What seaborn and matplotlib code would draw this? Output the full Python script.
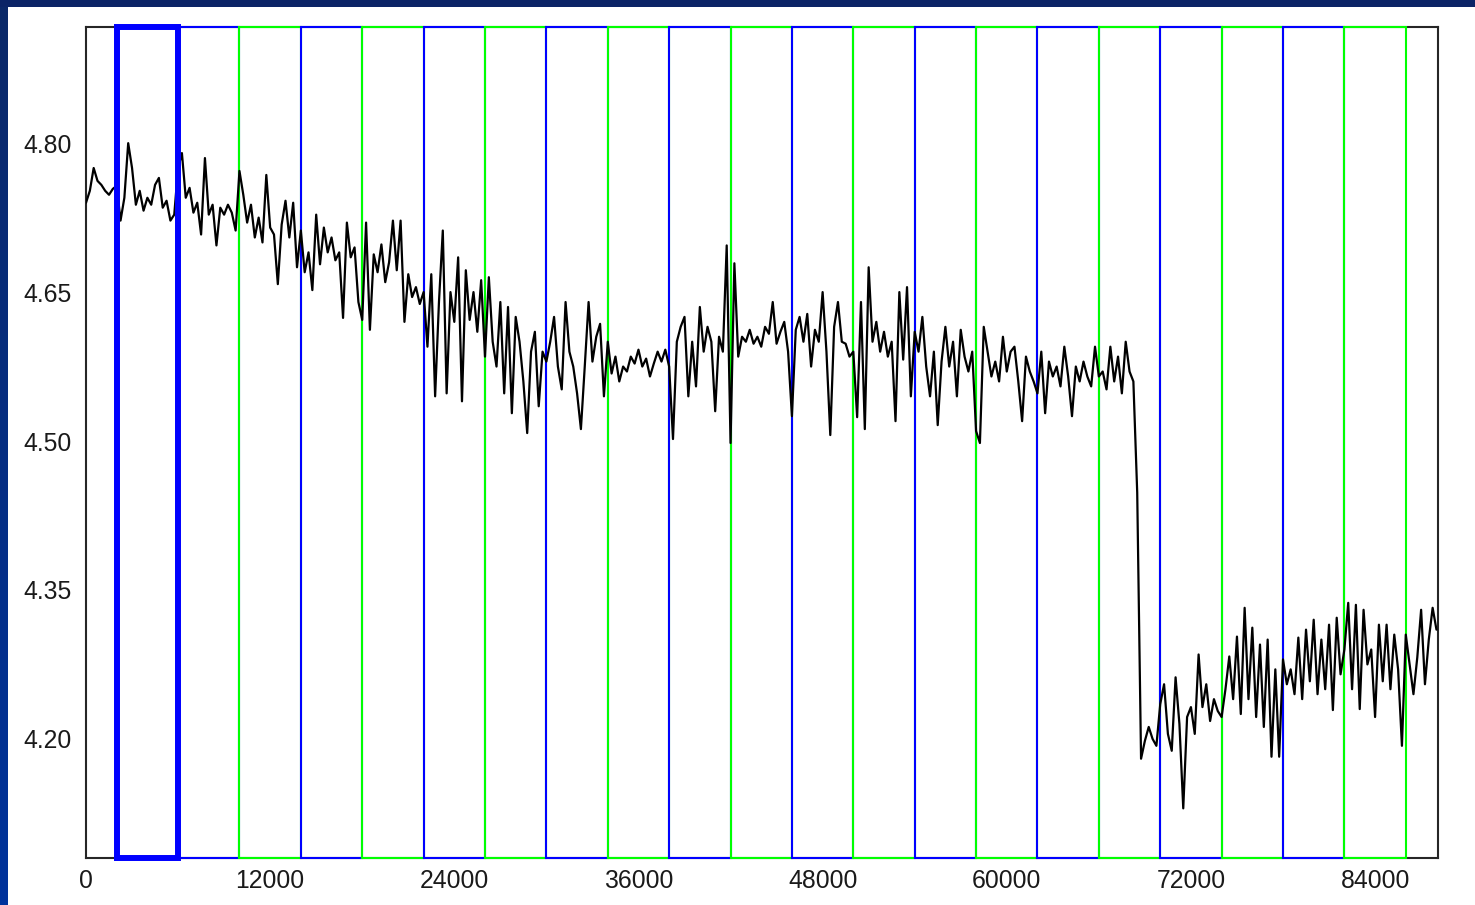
import numpy as np
import pandas as pd
import matplotlib
matplotlib.use("Agg")
import matplotlib.pyplot as plt
from matplotlib.patches import Rectangle
from matplotlib.colors import LinearSegmentedColormap
import seaborn as sns

# ---------------- data (sample spacing 250) ----------------
STEP = 250
y_0_2k = [4.740, 4.752, 4.775, 4.762, 4.758, 4.752, 4.748, 4.754, 4.757]
y_box_a = [4.722, 4.745, 4.800, 4.775, 4.738, 4.752, 4.732, 4.745, 4.738, 4.758, 4.765, 4.735, 4.742, 4.722, 4.728, 4.775]
y_box_b = [4.790, 4.745, 4.755, 4.730, 4.740, 4.708, 4.785, 4.728, 4.738, 4.697, 4.735, 4.728, 4.738, 4.730, 4.712, 4.772]
y_box_c = [4.748, 4.720, 4.738, 4.705, 4.725, 4.700, 4.768, 4.715, 4.708, 4.658, 4.718, 4.742, 4.705, 4.740, 4.675, 4.712]
y_box_d = [4.670, 4.690, 4.652, 4.728, 4.678, 4.715, 4.690, 4.705, 4.682, 4.690, 4.624, 4.720, 4.685, 4.695, 4.640, 4.622]
y_box_e = [4.720, 4.612, 4.688, 4.670, 4.698, 4.660, 4.680, 4.722, 4.672, 4.722, 4.620, 4.668, 4.645, 4.655, 4.638, 4.650]
y_box_f = [4.595, 4.668, 4.545, 4.640, 4.712, 4.548, 4.650, 4.620, 4.685, 4.540, 4.672, 4.622, 4.650, 4.610, 4.662, 4.585]
y_box_g = [4.665, 4.600, 4.575, 4.640, 4.548, 4.635, 4.528, 4.625, 4.600, 4.560, 4.508, 4.590, 4.610, 4.535, 4.590, 4.580]
y_box_h = [4.600, 4.625, 4.575, 4.552, 4.640, 4.590, 4.575, 4.548, 4.512, 4.575, 4.640, 4.580, 4.605, 4.618, 4.545, 4.600]
y_box_i = [4.568, 4.585, 4.560, 4.575, 4.570, 4.585, 4.578, 4.592, 4.575, 4.583, 4.565, 4.578, 4.590, 4.580, 4.592, 4.575]
y_box_j = [4.502, 4.600, 4.615, 4.625, 4.545, 4.600, 4.555, 4.635, 4.590, 4.615, 4.600, 4.530, 4.605, 4.590, 4.697, 4.498]
y_box_k = [4.679, 4.585, 4.605, 4.600, 4.612, 4.598, 4.605, 4.595, 4.615, 4.608, 4.640, 4.598, 4.610, 4.620, 4.590, 4.525]
y_box_l = [4.612, 4.625, 4.600, 4.628, 4.575, 4.612, 4.600, 4.650, 4.590, 4.506, 4.615, 4.640, 4.600, 4.598, 4.585, 4.590]
y_box_m = [4.524, 4.640, 4.512, 4.675, 4.600, 4.620, 4.590, 4.610, 4.585, 4.600, 4.520, 4.650, 4.582, 4.655, 4.545, 4.610]
y_box_n = [4.590, 4.625, 4.575, 4.545, 4.590, 4.516, 4.580, 4.615, 4.575, 4.600, 4.545, 4.612, 4.585, 4.570, 4.590, 4.510]
y_box_o = [4.498, 4.615, 4.590, 4.565, 4.580, 4.560, 4.605, 4.570, 4.590, 4.595, 4.560, 4.520, 4.585, 4.570, 4.560, 4.548]
y_box_p = [4.590, 4.528, 4.580, 4.565, 4.575, 4.555, 4.595, 4.565, 4.525, 4.575, 4.560, 4.580, 4.565, 4.555, 4.595, 4.565]
y_box_q = [4.570, 4.552, 4.595, 4.560, 4.585, 4.548, 4.600, 4.570, 4.560, 4.448, 4.180, 4.198, 4.212, 4.200, 4.193, 4.235]
y_box_r = [4.255, 4.205, 4.188, 4.262, 4.215, 4.130, 4.222, 4.232, 4.205, 4.285, 4.232, 4.255, 4.218, 4.240, 4.228, 4.222]
y_box_s = [4.250, 4.283, 4.240, 4.303, 4.225, 4.332, 4.240, 4.312, 4.222, 4.295, 4.212, 4.300, 4.182, 4.270, 4.182, 4.280]
y_box_t = [4.255, 4.270, 4.245, 4.302, 4.240, 4.310, 4.258, 4.320, 4.245, 4.300, 4.250, 4.315, 4.229, 4.322, 4.265, 4.290]
y_box_u = [4.337, 4.250, 4.335, 4.230, 4.330, 4.275, 4.290, 4.222, 4.315, 4.258, 4.315, 4.250, 4.305, 4.270, 4.193, 4.305]
y_tail = [4.275, 4.245, 4.282, 4.330, 4.255, 4.300, 4.332, 4.310]

# window boxes (start, colour); the first one is highlighted
box_starts = [2000, 6000, 10000, 14000, 18000, 22000, 26000, 30000, 34000, 38000, 42000,
              46000, 50000, 54000, 58000, 62000, 66000, 70000, 74000, 78000, 82000]
box_width = 4000
box_colors = ["#0000ff", "#0000ff", "#00ff00", "#0000ff", "#00ff00", "#0000ff", "#00ff00",
              "#0000ff", "#00ff00", "#0000ff", "#00ff00", "#0000ff", "#00ff00", "#0000ff",
              "#00ff00", "#0000ff", "#00ff00", "#0000ff", "#00ff00", "#0000ff", "#00ff00"]
highlight_box = 0

x_ticks = [0, 12000, 24000, 36000, 48000, 60000, 72000, 84000]
y_ticks = [4.20, 4.35, 4.50, 4.65, 4.80]
x_lim = (0, 88100)
y_lim = (4.08, 4.917)

values = np.concatenate([y_0_2k, y_box_a, y_box_b, y_box_c, y_box_d, y_box_e, y_box_f, y_box_g,
                         y_box_h, y_box_i, y_box_j, y_box_k, y_box_l, y_box_m, y_box_n, y_box_o,
                         y_box_p, y_box_q, y_box_r, y_box_s, y_box_t, y_box_u, y_tail])
df = pd.DataFrame({"t": np.arange(len(values)) * STEP, "v": values})

# ---------------- figure ----------------
sns.set_style("white")
plt.rcParams["font.family"] = ["Liberation Sans", "DejaVu Sans"]

W, H = 1475, 905
fig = plt.figure(figsize=(W / 100, H / 100), dpi=100, facecolor="white")

# slide frame: top band and left gradient band
fig.patches.append(Rectangle((0, 1 - 7 / H), 1, 7 / H, transform=fig.transFigure,
                             facecolor="#0b2466", edgecolor="none", zorder=0))
band = fig.add_axes([0, 0, 8 / W, 1 - 7 / H])
grad = np.linspace(0, 1, 256).reshape(-1, 1)
cmap = LinearSegmentedColormap.from_list("frame", ["#0b2868", "#00339c"])
band.imshow(grad, aspect="auto", cmap=cmap, extent=(0, 1, 0, 1), origin="upper")
band.set_axis_off()

ax = fig.add_axes([86 / W, (H - 858) / H, (1438 - 86) / W, (858 - 27) / H])
ax.set_facecolor("white")

for i, (s, c) in enumerate(zip(box_starts, box_colors)):
    if i == highlight_box:
        continue
    ax.axvspan(s, s + box_width, ymin=0, ymax=1, fill=False, edgecolor=c,
               linewidth=1.5, zorder=2.6, clip_on=False)

sns.lineplot(data=df, x="t", y="v", ax=ax, color="black", linewidth=1.6,
             estimator=None, zorder=2.8)

s = box_starts[highlight_box]
ax.axvspan(s, s + box_width, ymin=0, ymax=1, fill=False, edgecolor=box_colors[highlight_box],
           linewidth=4.3, zorder=3.0, clip_on=False)

ax.set_xlim(*x_lim)
ax.set_ylim(*y_lim)
ax.set_xticks(x_ticks)
ax.set_xticklabels([str(t) for t in x_ticks])
ax.set_yticks(y_ticks)
ax.set_yticklabels([f"{t:.2f}" for t in y_ticks])
ax.set_xlabel("")
ax.set_ylabel("")
ax.tick_params(axis="both", direction="in", length=7, width=1.5, colors="#222222",
               labelsize=17.8, labelcolor="#1a1a1a")
ax.tick_params(axis="x", pad=8)
ax.tick_params(axis="y", pad=10)
for sp in ax.spines.values():
    sp.set_color("#262626")
    sp.set_linewidth(1.5)
    sp.set_visible(True)

fig.savefig("out.png", dpi=100, facecolor="white")
